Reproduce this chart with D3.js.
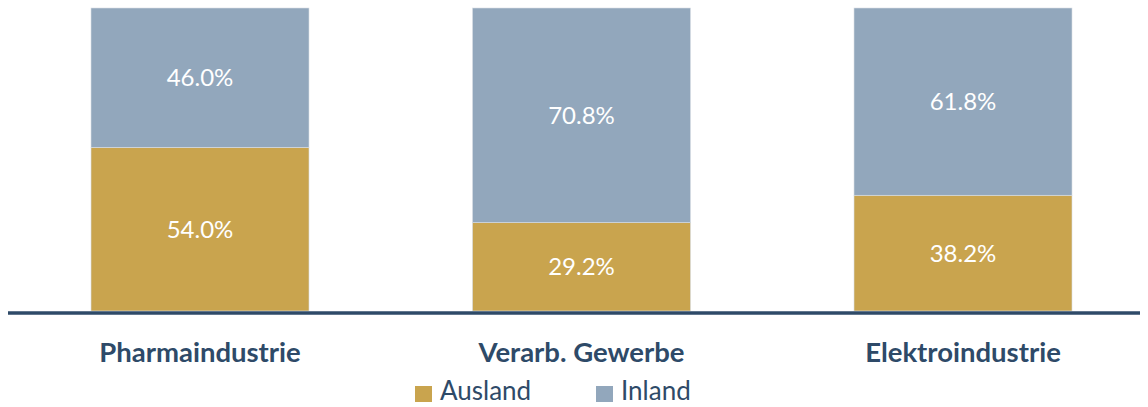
<!DOCTYPE html>
<html>
<head>
<meta charset="utf-8">
<script src="https://cdn.jsdelivr.net/npm/d3@7"></script>
<style>
  body { margin: 0; background: #fff; }
  text { font-family: Lato, "Open Sans", sans-serif; }
</style>
</head>
<body>
<div id="chart"></div>
<script>
var categories = ["Pharmaindustrie", "Verarb. Gewerbe", "Elektroindustrie"];
var ausland = [54.0, 29.2, 38.2];
var inland = [46.0, 70.8, 61.8];
var seriesNames = ["Ausland", "Inland"];

var width = 1148, height = 407;
var colors = { Ausland: "#c9a44e", Inland: "#92a7bc" };
var navy = "#2e4a68";

var svg = d3.select("#chart").append("svg").attr("width", width).attr("height", height);

var x = d3.scaleBand().domain(categories).range([9.25, 1153.75])
    .paddingInner(0.4286).paddingOuter(0.2143);
var y = d3.scaleLinear().domain([0, 100]).range([311, 8]);

var rows = categories.map(function (c, i) {
    return { cat: c, Ausland: ausland[i], Inland: inland[i] };
});
var stacked = d3.stack().keys(seriesNames)(rows);

var layer = svg.selectAll("g.layer").data(stacked).enter().append("g")
    .attr("class", "layer")
    .attr("fill", function (d) { return colors[d.key]; });

layer.selectAll("rect").data(function (d) { return d; }).enter().append("rect")
    .attr("x", function (d) { return x(d.data.cat); })
    .attr("width", x.bandwidth())
    .attr("y", function (d) { return y(d[1]); })
    .attr("height", function (d) { return y(d[0]) - y(d[1]); })
    .attr("stroke", "#d9dee4")
    .attr("stroke-width", 0.6);

layer.selectAll("text").data(function (d) { return d; }).enter().append("text")
    .attr("x", function (d) { return x(d.data.cat) + x.bandwidth() / 2; })
    .attr("y", function (d) { return (y(d[0]) + y(d[1])) / 2; })
    .attr("dy", "0.36em")
    .attr("text-anchor", "middle")
    .attr("fill", "#fff")
    .style("font-size", "24px")
    .text(function (d) { return (d[1] - d[0]).toFixed(1) + "%"; });

// baseline
svg.append("line")
    .attr("x1", 8).attr("x2", 1140)
    .attr("y1", y(0) + 2).attr("y2", y(0) + 2)
    .attr("stroke", navy).attr("stroke-width", 3.5);

// category labels
var xAxis = svg.append("g").attr("transform", "translate(0," + (y(0) + 2) + ")")
    .call(d3.axisBottom(x).tickSize(0).tickPadding(0));
xAxis.select(".domain").remove();
xAxis.selectAll("text")
    .attr("y", 49).attr("dy", 0)
    .attr("fill", navy)
    .style("font-family", "Lato, sans-serif")
    .style("font-size", "27.5px")
    .style("font-weight", "bold");

// legend
var legendX = [415, 596];
var legend = svg.selectAll("g.legend").data(seriesNames).enter().append("g")
    .attr("class", "legend")
    .attr("transform", function (d, i) { return "translate(" + legendX[i] + ",384)"; });
legend.append("rect").attr("y", 2).attr("width", 17).attr("height", 16)
    .attr("fill", function (d) { return colors[d]; });
legend.append("text").attr("x", 25).attr("y", 16)
    .attr("fill", navy)
    .style("font-size", "26px")
    .text(function (d) { return d; });
</script>
</body>
</html>
